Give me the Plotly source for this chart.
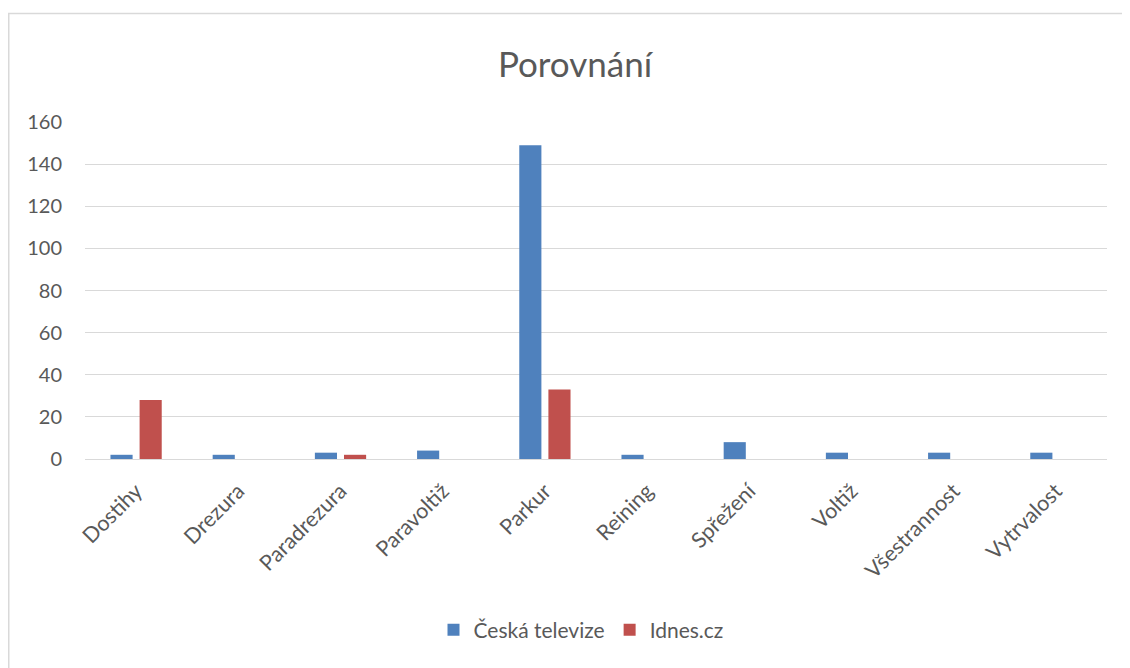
import plotly.graph_objects as go

categories = ["Dostihy", "Drezura", "Paradrezura", "Paravoltiž", "Parkur",
              "Reining", "Spřežení", "Voltiž", "Všestrannost", "Vytrvalost"]
ceska_televize = [2, 2, 3, 4, 149, 2, 8, 3, 3, 3]
idnes = [28, 0, 2, 0, 33, 0, 0, 0, 0, 0]
y_ticks = [0, 20, 40, 60, 80, 100, 120, 140, 160]

FONT = "Lato, Carlito, 'Open Sans', sans-serif"
GRAY = "#595959"

fig = go.Figure()
fig.add_trace(go.Bar(name="Česká televize", x=categories, y=ceska_televize,
                     marker=dict(color="#4f81bd", line=dict(width=0))))
fig.add_trace(go.Bar(name="Idnes.cz", x=categories, y=idnes,
                     marker=dict(color="#c0504d", line=dict(width=0))))

OFF = 8  # page body margin offset
W, H = 1130, 668
L, R, T, B = 85 - OFF, 1107 - OFF, 122 - OFF, 459 - OFF
pw, ph = R - L, B - T

fig.update_layout(
    width=W, height=H,
    margin=dict(l=L, r=W - R, t=T, b=H - B, autoexpand=False),
    paper_bgcolor="white", plot_bgcolor="white",
    barmode="group", bargap=0.43, bargroupgap=0.24,
    font=dict(family=FONT, color=GRAY, size=20),
    title=dict(text="Porovnání", x=(575 - OFF - L) / pw, xref="paper", xanchor="center",
               y=1 - (65 - OFF) / H, yanchor="middle",
               font=dict(size=35, color=GRAY, family=FONT)),
    showlegend=True,
    legend=dict(orientation="h", x=(581 - OFF - L) / pw, xanchor="center",
                y=(B - (630 - OFF)) / ph, yanchor="middle",
                font=dict(size=21, color=GRAY, family=FONT),
                itemwidth=30, traceorder="normal"),
    xaxis=dict(showgrid=False, showline=True, linecolor="#d9d9d9", linewidth=1,
               tickangle=-45, ticks="", ticklabelstandoff=10,
               tickfont=dict(size=21.5, color=GRAY, family=FONT)),
    yaxis=dict(range=[0, 160], tickvals=y_ticks, showgrid=True, gridcolor="#d9d9d9",
               gridwidth=1, zeroline=False, showline=False, ticks="",
               ticklabelstandoff=22,
               tickfont=dict(size=20, color=GRAY, family=FONT)),
    shapes=[
        dict(type="line", xref="paper", yref="paper",
             x0=(0 - L) / pw, x1=(W - L) / pw, y0=(B - 5.5) / ph, y1=(B - 5.5) / ph,
             line=dict(color="#d9d9d9", width=1.5)),
        dict(type="line", xref="paper", yref="paper",
             x0=(0.75 - L) / pw, x1=(0.75 - L) / pw, y0=(B - 5.5) / ph, y1=(B - H) / ph,
             line=dict(color="#d9d9d9", width=1.5)),
    ],
)

fig.write_html("out.html")
